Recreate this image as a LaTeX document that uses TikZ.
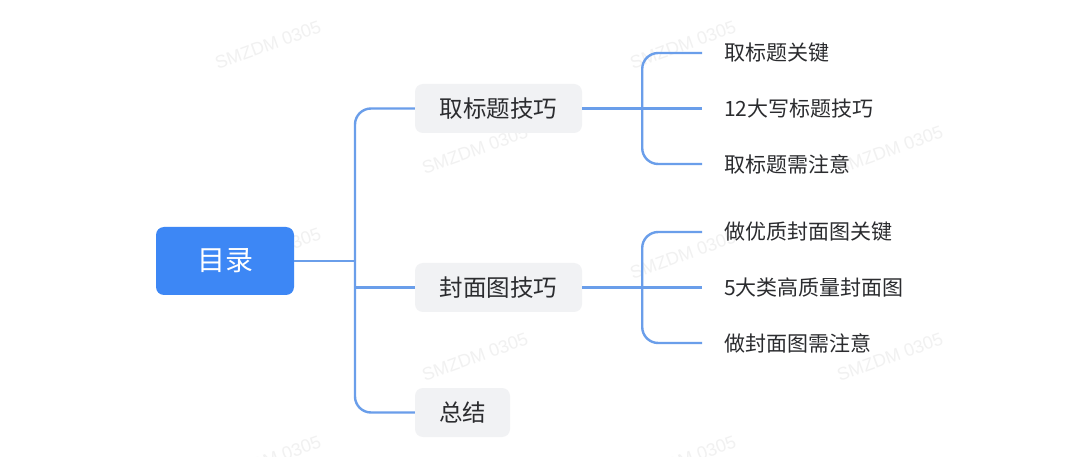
\documentclass[tikz,border=0pt]{standalone}
\usepackage{fontspec}
\setmainfont{Noto Sans CJK SC}
\newfontfamily\wmfont{Liberation Sans}
\definecolor{rootblue}{HTML}{3D87F5}
\definecolor{linkblue}{HTML}{6A9EEA}
\definecolor{boxgray}{HTML}{F1F2F4}
\definecolor{txt}{HTML}{2B2C2F}
\definecolor{wm}{HTML}{F1F1F1}
\begin{document}
\begin{tikzpicture}[x=1pt,y=-1pt,
  rootbox/.style={fill=rootblue, rounded corners=8pt, minimum width=138pt, minimum height=68pt, text=white, font=\fontsize{28}{30}\selectfont, inner sep=0pt},
  topicbox/.style={fill=boxgray, rounded corners=8pt, minimum height=49pt, text=txt, font=\fontsize{23.5}{26}\selectfont, inner sep=0pt},
  leaf/.style={anchor=west, inner sep=0pt, text=txt, font=\fontsize{21}{24}\selectfont},
  conn/.style={draw=linkblue, line width=2.4pt},
  elbow/.style={conn, rounded corners=16pt},
  wmark/.style={text=wm, font=\wmfont\fontsize{18}{20}\selectfont, rotate=20}]
\useasboundingbox (0,0) rectangle (1080,457);
\fill[white] (0,0) rectangle (1080,457);
\begin{scope}
\clip (0,0) rectangle (1080,457);
\foreach \x/\y [count=\i] in {268/45, 683/45, 475/150, 890/150, 268/252, 683/255, 475/357, 890/357, 268/460, 683/460}
  \node[wmark] (wm\i) at (\x,\y) {SMZDM 0305};
\end{scope}
% nodes
\node[rootbox] (root) at (225,261) {目录};
\node[topicbox, minimum width=167pt] (t1) at (498.5,108.5) {取标题技巧};
\node[topicbox, minimum width=167pt] (t2) at (498.5,287.5) {封面图技巧};
\node[topicbox, minimum width=95pt] (t3) at (462.5,412.5) {总结};
\node[leaf] (l11) at (724,53) {取标题关键};
\node[leaf] (l12) at (724,108.5) {12大写标题技巧};
\node[leaf] (l13) at (724,164) {取标题需注意};
\node[leaf] (l21) at (724,232) {做优质封面图关键};
\node[leaf] (l22) at (724,287.5) {5大类高质量封面图};
\node[leaf] (l23) at (724,343) {做封面图需注意};
% first level connectors
\coordinate (j0) at (355,261);
\draw[conn] (root.east) -- (j0);
\draw[elbow] (j0) |- (t1.west);
\draw[elbow] (j0) |- (t3.west);
\draw[conn] (t2.west -| j0) -- (t2.west);
% second level connectors
\coordinate (j1) at ([xshift=60pt]t1.east);
\draw[conn] (t1.east) -- ([xshift=-22pt]l12.west);
\draw[elbow] (j1) |- ([xshift=-22pt]l11.west);
\draw[elbow] (j1) |- ([xshift=-22pt]l13.west);
\coordinate (j2) at ([xshift=60pt]t2.east);
\draw[conn] (t2.east) -- ([xshift=-22pt]l22.west);
\draw[elbow] (j2) |- ([xshift=-22pt]l21.west);
\draw[elbow] (j2) |- ([xshift=-22pt]l23.west);
\end{tikzpicture}
\end{document}
